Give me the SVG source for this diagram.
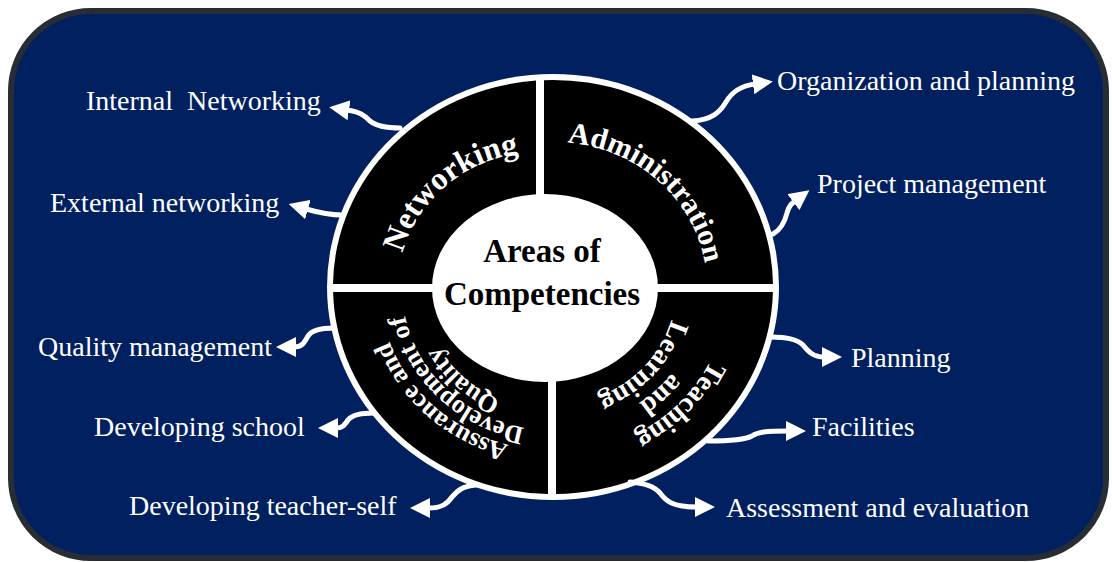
<svg xmlns="http://www.w3.org/2000/svg" xmlns:xlink="http://www.w3.org/1999/xlink" width="1112" height="562" viewBox="0 0 1112 562">
<style>
.lbl{font-family:'Liberation Serif','Times New Roman',serif;font-size:28px;fill:#fff}
.seg{fill:#000}
.segt{font-family:'Liberation Serif','Times New Roman',serif;font-weight:bold;fill:#fff;text-anchor:middle}
.ctr{font-family:'Liberation Serif','Times New Roman',serif;font-weight:bold;font-size:33px;fill:#000;text-anchor:middle}
.conn path{fill:none;stroke:#fff;stroke-width:5;stroke-linecap:round;marker-end:url(#ah)}
</style>
<defs>
<marker id="ah" viewBox="0 0 20 20" refX="2" refY="10" markerWidth="20" markerHeight="20" markerUnits="userSpaceOnUse" orient="auto">
<path d="M0,0 L20,10 L0,20 Z" fill="#fff"/>
</marker>
<path id="pNet" d="M398,287 A142 135 0 0 1 540,152"/>
<path id="pAdm" d="M553,142 A154 145 0 0 1 707,287"/>
<path id="pT1" d="M728,288 A176 166 0 0 1 552,454"/>
<path id="pT2" d="M702,288 A150 141 0 0 1 552,429"/>
<path id="pT3" d="M676,288 A124 117 0 0 1 552,405"/>
<path id="pQ1" d="M552,450 A172 162 0 0 1 380,288"/>
<path id="pQ2" d="M552,430 A150 142 0 0 1 402,288"/>
<path id="pQ3" d="M552,410 A129 122 0 0 1 423,288"/>
</defs>

<rect x="11" y="11" width="1095" height="547" rx="80" ry="80" fill="#002060" stroke="#272c35" stroke-width="6"/>

<ellipse cx="553" cy="287" rx="226" ry="213" fill="#fff"/>

<g id="node-networking">
<path class="seg" d="M536,284 L333,284 A220 207 0 0 1 536,80.6 Z"/>
<text class="segt" font-size="32"><textPath xlink:href="#pNet" href="#pNet" startOffset="53%">Networking</textPath></text>
</g>

<g id="node-administration">
<path class="seg" d="M544,284 L544,80.2 A220 207 0 0 1 773,284 Z"/>
<text class="segt" font-size="30"><textPath xlink:href="#pAdm" href="#pAdm" startOffset="48%">Administration</textPath></text>
</g>

<g id="node-teaching-learning">
<path class="seg" d="M556,292 L772.9,292 A220 207 0 0 1 556,494 Z"/>
<text class="segt" font-size="28"><textPath xlink:href="#pT1" href="#pT1" startOffset="48%">Teaching</textPath></text>
<text class="segt" font-size="28"><textPath xlink:href="#pT2" href="#pT2" startOffset="50%">and</textPath></text>
<text class="segt" font-size="28"><textPath xlink:href="#pT3" href="#pT3" startOffset="46%">Learning</textPath></text>
</g>

<g id="node-quality">
<path class="seg" d="M548,292 L548,494 A220 207 0 0 1 333.1,292 Z"/>
<text class="segt" font-size="26"><textPath xlink:href="#pQ1" href="#pQ1" startOffset="48%">Assurance and</textPath></text>
<text class="segt" font-size="26"><textPath xlink:href="#pQ2" href="#pQ2" startOffset="50%">Development of</textPath></text>
<text class="segt" font-size="26"><textPath xlink:href="#pQ3" href="#pQ3" startOffset="48%">Quality</textPath></text>
</g>

<g id="node-center">
<ellipse cx="545" cy="288" rx="113" ry="94" fill="#fff"/>
<text class="ctr" x="542" y="262">Areas of</text>
<text class="ctr" x="542" y="305">Competencies</text>
</g>

<g id="connectors" class="conn">
<path d="M400,128 C385,128 376,126 370,121 C364,115 360,112 347,110"/>
<path d="M342,215 C330,215 320,213 306,209"/>
<path d="M692,121 C712,120 720,112 726,102 C732,92 740,86 755,84"/>
<path d="M773,234 C782,229 785,221 787,213 C789,206 791,204 795,201"/>
<path d="M334,328 C320,328 312,330 308,336 C304,343 302,347 294,347"/>
<path d="M374,413 C360,413 352,415 348,420 C344,426 342,428 336,428"/>
<path d="M476,485 C463,486 458,490 452,497 C447,504 442,508 428,508"/>
<path d="M771,337 C787,337 797,339 803,345 C809,352 813,357 824,357"/>
<path d="M708,441 C730,441 745,440 752,436 C758,432 765,431 788,431"/>
<path d="M630,482 C645,483 654,486 660,493 C666,501 672,507 697,507"/>
</g>

<g id="label-internal"><text class="lbl" x="86" y="110" xml:space="preserve">Internal  Networking</text></g>
<g id="label-external"><text class="lbl" x="50" y="212">External networking</text></g>
<g id="label-organization"><text class="lbl" x="777" y="90">Organization and planning</text></g>
<g id="label-project"><text class="lbl" x="817" y="193">Project management</text></g>
<g id="label-quality"><text class="lbl" x="38" y="356">Quality management</text></g>
<g id="label-school"><text class="lbl" x="94" y="436">Developing school</text></g>
<g id="label-teacher"><text class="lbl" x="129" y="515">Developing teacher-self</text></g>
<g id="label-planning"><text class="lbl" x="851" y="367">Planning</text></g>
<g id="label-facilities"><text class="lbl" x="812" y="436">Facilities</text></g>
<g id="label-assessment"><text class="lbl" x="726" y="517">Assessment and evaluation</text></g>
</svg>
